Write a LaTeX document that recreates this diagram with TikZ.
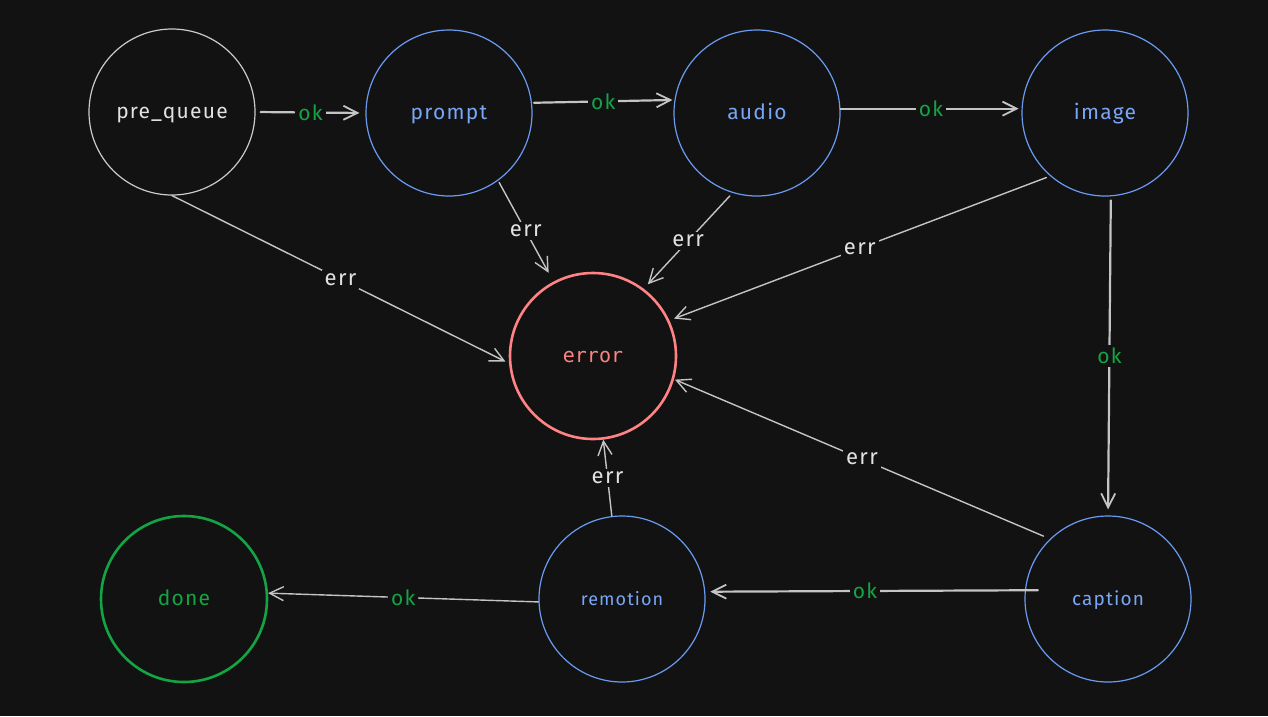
\documentclass[tikz,border=0pt]{standalone}
\usepackage{fontspec}
\setmainfont{Fira Sans}[LetterSpace=6]
\newfontfamily\monofont{DejaVu Sans Mono}
\usetikzlibrary{arrows.meta}
\definecolor{bg}{HTML}{121212}
\definecolor{edgegrey}{HTML}{C4C4C4}
\definecolor{labelgrey}{HTML}{E2E2E2}
\definecolor{stateblue}{HTML}{6A9BF2}
\definecolor{textblue}{HTML}{79A6F6}
\definecolor{errred}{HTML}{FF8385}
\definecolor{okgreen}{HTML}{13A544}
\tikzset{
  state/.style={circle, minimum size=166pt, inner sep=0pt, draw=stateblue,
    line width=1.2pt, text=textblue, text height=1.45em, text depth=0.22em,
    font=\fontsize{21}{21}\selectfont},
  okedge/.style={draw=edgegrey, line width=2.2pt, line cap=round,
    -{Straight Barb[length=14pt, width=14pt, line width=1.8pt]}},
  erredge/.style={draw=edgegrey, line width=1.4pt, line cap=round,
    -{Straight Barb[length=14pt, width=14pt, line width=1.4pt]}},
  oklabel/.style={fill=bg, inner sep=3pt, text=okgreen, font=\fontsize{21}{21}\selectfont},
  errlabel/.style={fill=bg, inner sep=3pt, text=labelgrey, font=\fontsize{22}{22}\selectfont},
}
\begin{document}
\begin{tikzpicture}[x=1pt, y=-1pt]
  \path[fill=bg] (0,0) rectangle (1268,716);

  % states
  \node[state, draw=labelgrey!90!black, text=labelgrey] (pre) at (172,112) {pre\_queue};
  \node[state] (prompt) at (449,113) {prompt};
  \node[state] (audio) at (757,113) {audio};
  \node[state] (image) at (1105,113) {image};
  \node[state, draw=errred, text=errred, line width=2.6pt,
        font=\monofont\fontsize{20}{20}\selectfont] (error) at (593,356) {error};
  \node[state, font=\fontsize{19}{19}\selectfont] (caption) at (1108,599) {caption};
  \node[state, font=\fontsize{18}{18}\selectfont] (remotion) at (622,599) {remotion};
  \node[state, draw=okgreen, text=okgreen, line width=2.6pt] (done) at (184,599) {done};

  % success path
  \draw[okedge, shorten <=5pt, shorten >=6pt] (pre.east) -- node[oklabel] {ok} (prompt.west);
  \draw[okedge, shorten <=2pt, shorten >=2pt] (prompt.7) -- node[oklabel] {ok} (audio.171);
  \draw[okedge, shorten <=0pt, shorten >=3pt] (audio.3) -- node[oklabel] {ok} (image.177);
  \draw[okedge, shorten <=4pt, shorten >=6pt] (image.-86) -- node[oklabel] {ok} (caption.north);
  \draw[okedge, shorten <=-13pt, shorten >=5pt] (caption.174) -- node[oklabel] {ok} (remotion.5);
  \draw[erredge, shorten <=0pt, shorten >=0pt] (remotion.182) -- node[oklabel] {ok} (done.4);

  % failure paths
  \draw[erredge, shorten >=4pt] (pre.south) -- node[errlabel] {err} (error.185);
  \draw[erredge, shorten <=2pt, shorten >=10pt] (prompt.-54) -- node[errlabel] {err} (error.118);
  \draw[erredge, shorten <=4pt, shorten >=6pt] (audio.-107) -- node[errlabel] {err} (error.53);
  \draw[erredge, shorten <=4pt, shorten >=5pt] (image.-131) -- node[errlabel] {err} (error.25);
  \draw[erredge, shorten <=7pt, shorten >=1pt] (caption.134) -- node[errlabel] {err} (error.-16);
  \draw[erredge] (remotion.97) -- node[errlabel] {err} (error.-83);
\end{tikzpicture}
\end{document}
